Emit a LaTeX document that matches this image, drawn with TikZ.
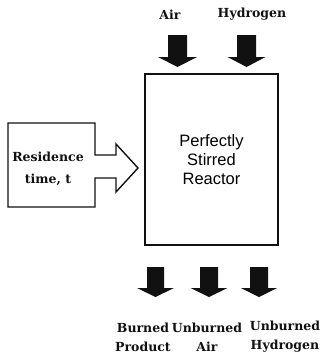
\documentclass[tikz,border=0pt]{standalone}
\usepackage{fontspec}
\newfontfamily\reactorfont{Liberation Sans}
\newfontfamily\labelfont{DejaVu Serif}
\usepackage{xcolor}
\usepackage{tikz}
\usetikzlibrary{
  positioning,
  calc
}
\definecolor{inkblack}{HTML}{111111}
\tikzset{
  flowlabel/.style={
    font=\labelfont\bfseries\fontsize{12.5}{19}\selectfont, align=center,
    inner sep=0pt, color=inkblack
  },
  reactorbox/.style={
    rectangle, draw=inkblack, line width=1.3pt,
    minimum width=133pt, minimum height=171pt, align=center,
    font=\reactorfont\fontsize{16.5}{19}\selectfont
  },
  timebox/.style={
    draw=inkblack, line width=1.4pt, line join=miter
  },
  blockarrow/.style={
    fill=inkblack
  },
}
\begin{document}
\begin{tikzpicture}[x=1pt,y=-1pt]
  \useasboundingbox (0,0) rectangle (320,356);

  %% Reactor
  \node[reactorbox] (reactor) at (211.5,159.5) {Perfectly\\Stirred\\Reactor};

  %% Inlets
  \node[flowlabel] (airlbl) at (170,15) {Air};
  \node[flowlabel] (h2lbl) at (252,14) {Hydrogen};
  \foreach \cx/\sh/\hh in {177.5/9.5/19.5, 246.5/9.5/19} {
    \fill[blockarrow] (\cx-\sh,35) -- (\cx+\sh,35) -- (\cx+\sh,57) -- (\cx+\hh,57)
      -- (\cx,67) -- (\cx-\hh,57) -- (\cx-\sh,57) -- cycle;
  }

  %% Residence time
  \draw[timebox] (8,123) -- (95,123) -- (95,155) -- (116,155) -- (116,144)
    -- (138,168) -- (116,192) -- (116,178) -- (95,178) -- (95,207) -- (8,207) -- cycle;
  \node[flowlabel, font=\labelfont\bfseries\fontsize{12.5}{21.5}\selectfont] (restime) at (48,169) {Residence\\time, t};

  %% Outlets
  \foreach \cx/\sh/\hh in {155.5/8.5/18.5, 209/9/18.5, 259/9/18} {
    \fill[blockarrow] (\cx-\sh,267) -- (\cx+\sh,267) -- (\cx+\sh,288) -- (\cx+\hh,288)
      -- (\cx,297) -- (\cx-\hh,288) -- (\cx-\sh,288) -- cycle;
  }
  \node[flowlabel] (burned) at (143,337) {Burned\\Product};
  \node[flowlabel] (unair) at (207,337) {Unburned\\Air};
  \node[flowlabel] (unh2) at (285,337) {Unburned\\Hydrogen};
\end{tikzpicture}
\end{document}
